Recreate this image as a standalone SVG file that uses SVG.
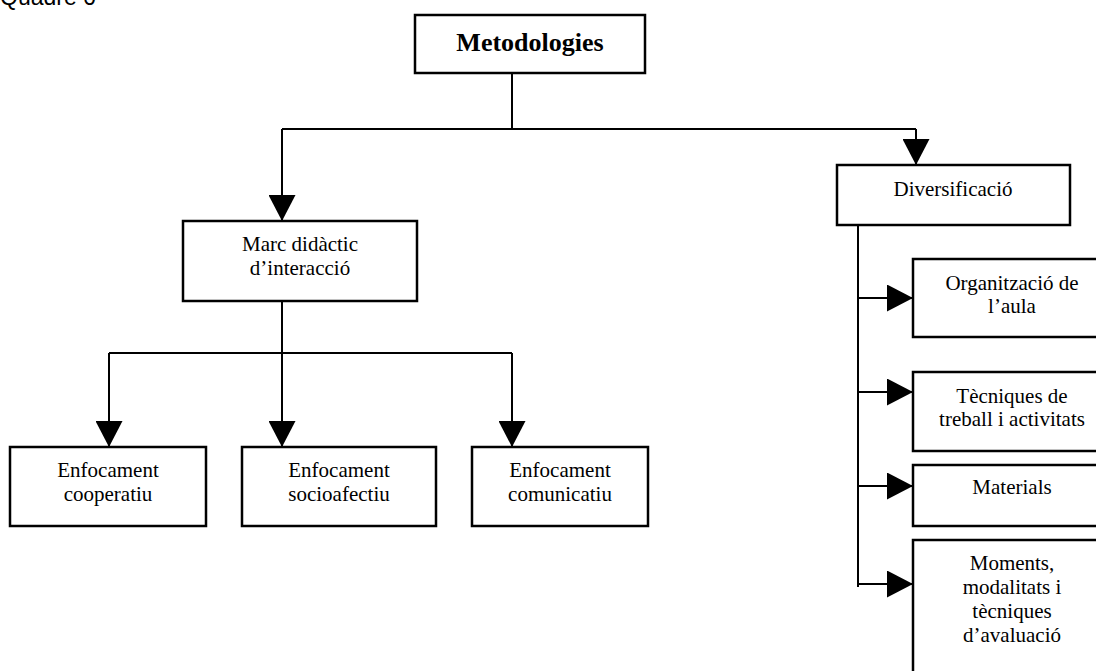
<svg xmlns="http://www.w3.org/2000/svg" width="1096" height="671" viewBox="0 0 1096 671">
<style>
.box{fill:#fff;stroke:#000;stroke-width:2.5}
.t{font-family:"Liberation Serif","Times New Roman",serif;font-size:21px;fill:#000;text-anchor:middle}
.tb{font-family:"Liberation Serif","Times New Roman",serif;font-size:26px;font-weight:bold;fill:#000;text-anchor:middle}
.c{fill:none;stroke:#000;stroke-width:2}
.cap{font-family:"Liberation Sans",Arial,sans-serif;font-size:23px;fill:#000}
</style>
<defs>
<marker id="ah" markerUnits="userSpaceOnUse" markerWidth="27" markerHeight="27" refX="26" refY="13.5" orient="auto">
<path d="M0,0 L26,13.5 L0,27 z" fill="#000"/>
</marker>
</defs>
<rect width="1096" height="671" fill="#fff"/>
<text class="cap" x="0" y="5">Quadre 6</text>
<g id="connectors">
<path class="c" d="M512,73 V129"/>
<path class="c" d="M282,129 H916"/>
<path class="c" d="M282,129 V221" marker-end="url(#ah)"/>
<path class="c" d="M916,129 V165" marker-end="url(#ah)"/>
<path class="c" d="M282,301 V447" marker-end="url(#ah)"/>
<path class="c" d="M109,353 H512"/>
<path class="c" d="M109,353 V447" marker-end="url(#ah)"/>
<path class="c" d="M512,353 V447" marker-end="url(#ah)"/>
<path class="c" d="M858,222 V587"/>
<path class="c" d="M858,298 H913" marker-end="url(#ah)"/>
<path class="c" d="M858,392 H913" marker-end="url(#ah)"/>
<path class="c" d="M858,486 H913" marker-end="url(#ah)"/>
<path class="c" d="M858,584 H913" marker-end="url(#ah)"/>
</g>
<g id="metodologies">
<rect class="box" x="415" y="15" width="230" height="58"/>
<text class="tb" x="530" y="51">Metodologies</text>
</g>
<g id="marc">
<rect class="box" x="183" y="221" width="234" height="80"/>
<text class="t" x="300" y="251">Marc didàctic</text>
<text class="t" x="300" y="275">d’interacció</text>
</g>
<g id="diversificacio">
<rect class="box" x="837" y="165" width="233" height="60"/>
<text class="t" x="953" y="196">Diversificació</text>
</g>
<g id="cooperatiu">
<rect class="box" x="10" y="447" width="196" height="79"/>
<text class="t" x="108" y="477">Enfocament</text>
<text class="t" x="108" y="501">cooperatiu</text>
</g>
<g id="socioafectiu">
<rect class="box" x="242" y="447" width="194" height="79"/>
<text class="t" x="339" y="477">Enfocament</text>
<text class="t" x="339" y="501">socioafectiu</text>
</g>
<g id="comunicatiu">
<rect class="box" x="472" y="447" width="176" height="79"/>
<text class="t" x="560" y="477">Enfocament</text>
<text class="t" x="560" y="501">comunicatiu</text>
</g>
<g id="organitzacio">
<rect class="box" x="913" y="259" width="198" height="78"/>
<text class="t" x="1012" y="290">Organització de</text>
<text class="t" x="1012" y="313">l’aula</text>
</g>
<g id="tecniques">
<rect class="box" x="913" y="372" width="198" height="79"/>
<text class="t" x="1012" y="403">Tècniques de</text>
<text class="t" x="1012" y="426">treball i activitats</text>
</g>
<g id="materials">
<rect class="box" x="913" y="465" width="198" height="61"/>
<text class="t" x="1012" y="494">Materials</text>
</g>
<g id="moments">
<rect class="box" x="913" y="540" width="198" height="150"/>
<text class="t" x="1012" y="570">Moments,</text>
<text class="t" x="1012" y="594">modalitats i</text>
<text class="t" x="1012" y="618">tècniques</text>
<text class="t" x="1012" y="642">d’avaluació</text>
</g>
</svg>
